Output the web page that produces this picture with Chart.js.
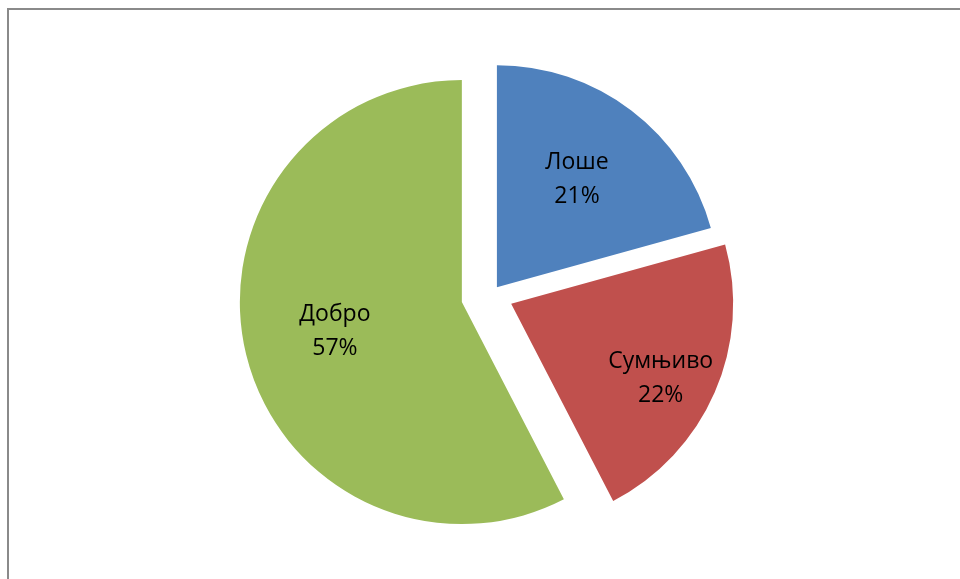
<!DOCTYPE html>
<html>
<head>
<meta charset="utf-8">
<script src="https://cdn.jsdelivr.net/npm/chart.js@4"></script>
<style>
body { margin: 0; background: #fff; }
canvas { display: block; }
</style>
</head>
<body>
<canvas id="pieChart" width="960" height="579"></canvas>
<script>
const categories = ["Лоше", "Сумњиво", "Добро"]
const shares = [20.7, 21.7, 57.6]
const percentLabels = ["21%", "22%", "57%"]
const colors = ["#4F81BD", "#C0504D", "#9BBB59"]

// how far each slice is pulled out (Chart.js moves a slice by offset/4)
const explode = [39, 88, 120]
// where the label sits: fraction of the radius from the slice tip, and a small turn in degrees
const labelPos = [0.61, 0.75, 0.585]
const labelTurn = [-1, 2.5, 1.5]

// extra radius chart.js gives to an exploded slice when it draws it
function radiusOffset(arc) {
    const off = (arc.options.offset || 0) / 4
    return off * (1 - Math.sin(Math.min(Math.PI, arc.circumference)))
}

// chart.js makes big exploded slices larger and narrower, undo that so every slice keeps its size
const sameRadius = {
    id: "sameRadius",
    afterDatasetsUpdate(chart) {
        chart.getDatasetMeta(0).data.forEach(arc => {
            const roff = radiusOffset(arc)
            const r = arc.outerRadius
            arc.outerRadius = r - roff
            const widen = roff / Math.PI / r / 2
            arc.startAngle -= widen
            arc.endAngle += widen
        })
    }
}

const frame = {
    id: "frame",
    beforeDraw(chart) {
        const ctx = chart.ctx
        ctx.save()
        ctx.strokeStyle = "#8a8a8a"
        ctx.lineWidth = 2
        ctx.beginPath()
        ctx.moveTo(8, chart.height)
        ctx.lineTo(8, 9)
        ctx.lineTo(chart.width, 9)
        ctx.stroke()
        ctx.restore()
    }
}

const sliceLabels = {
    id: "sliceLabels",
    afterDatasetsDraw(chart) {
        const ctx = chart.ctx
        ctx.save()
        ctx.fillStyle = "#000"
        ctx.font = "23px 'Open Sans'"
        ctx.textAlign = "center"
        ctx.textBaseline = "middle"
        chart.getDatasetMeta(0).data.forEach((arc, i) => {
            const mid = (arc.startAngle + arc.endAngle) / 2
            const off = (arc.options.offset || 0) / 4
            const tipX = arc.x + Math.cos(mid) * off
            const tipY = arc.y + Math.sin(mid) * off
            const a = mid + labelTurn[i] * Math.PI / 180
            const d = (arc.outerRadius + radiusOffset(arc)) * labelPos[i]
            const x = tipX + Math.cos(a) * d
            const y = tipY + Math.sin(a) * d + 1.5
            ctx.fillText(categories[i], x, y - 17)
            ctx.fillText(percentLabels[i], x, y + 17)
        })
        ctx.restore()
    }
}

new Chart(document.getElementById("pieChart"), {
    type: "pie",
    data: {
        labels: categories,
        datasets: [{
            data: shares,
            backgroundColor: colors,
            borderWidth: 0,
            offset: explode
        }]
    },
    options: {
        responsive: false,
        animation: false,
        radius: 222,
        layout: { padding: { left: 22, top: 11, right: 0, bottom: 0 } },
        plugins: {
            legend: { display: false },
            tooltip: { enabled: false }
        }
    },
    plugins: [frame, sameRadius, sliceLabels]
})
</script>
</body>
</html>
